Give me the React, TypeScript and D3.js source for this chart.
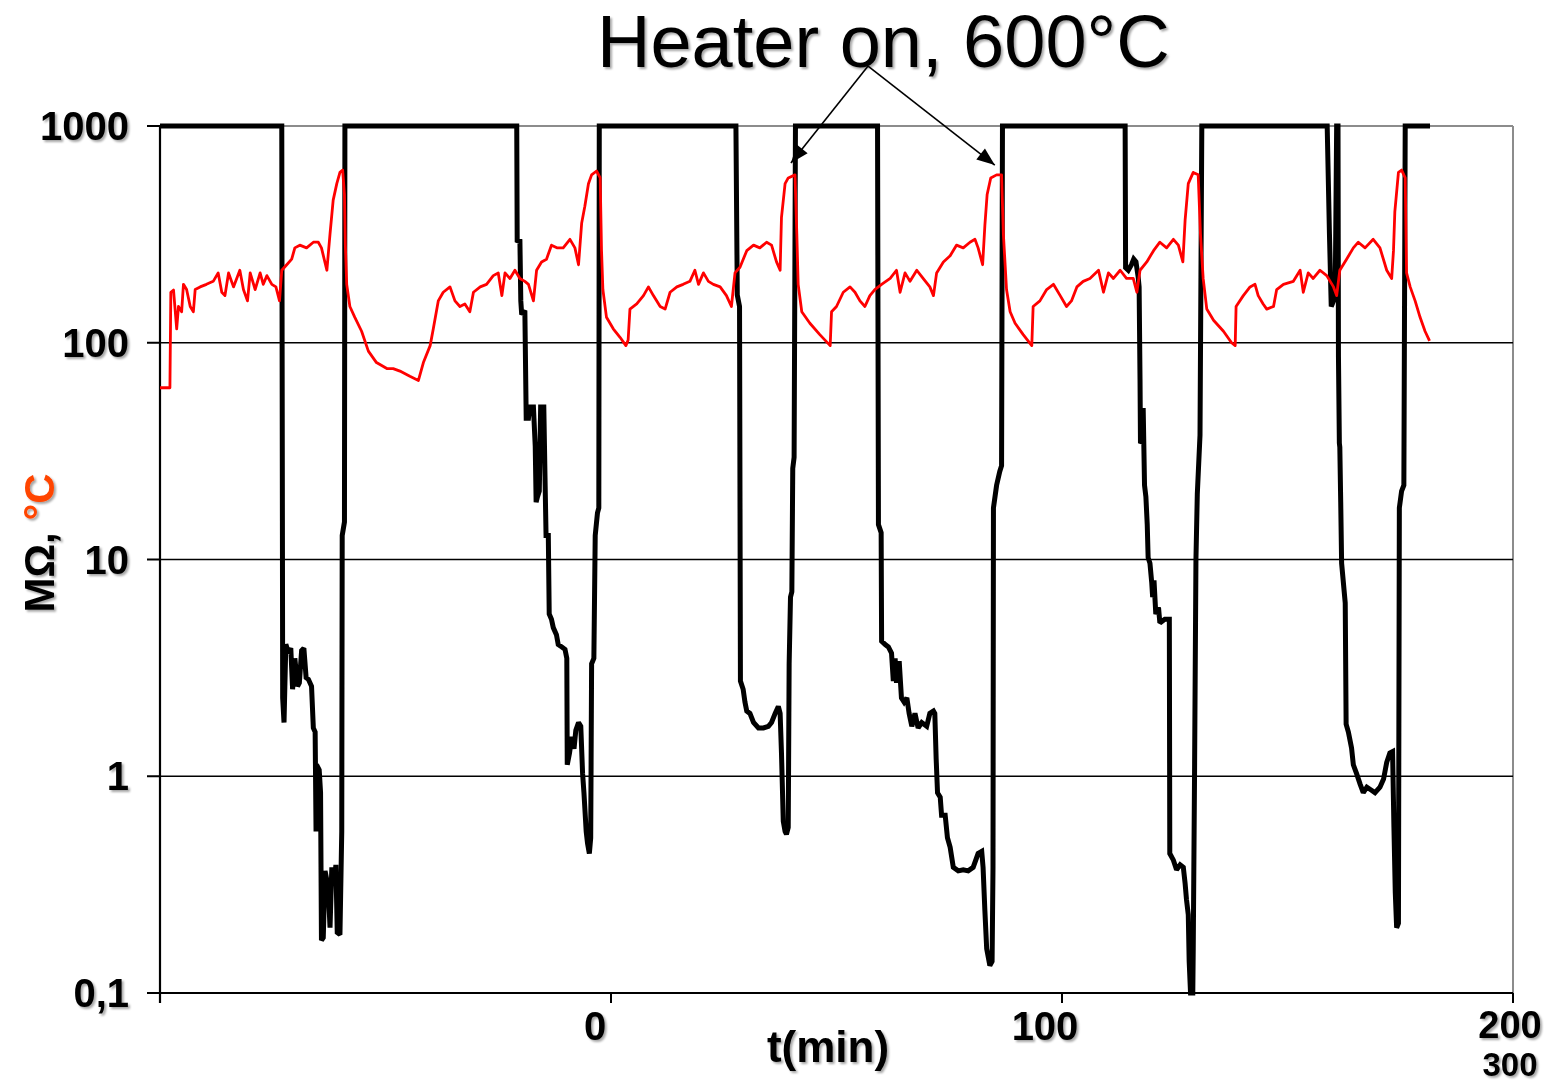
import React from "react";
import * as d3 from "d3";

// Resistance (MΩ) vs time (min)
const resistance: [number, number][] = [
  [0, 1000], [27.0, 1000], [27.2, 2.3], [27.5, 1.77], [27.9, 4.06], [28.5, 3.7], [29.0, 3.9], [29.4, 2.52],
  [29.9, 3.5], [30.5, 2.6], [30.9, 2.7], [31.4, 3.8], [31.9, 3.9], [32.4, 2.85], [32.9, 2.8], [33.6, 2.6],
  [34.0, 1.67], [34.4, 1.6], [34.6, 0.556], [34.7, 1.13], [35.3, 1.07], [35.6, 0.84], [35.8, 0.175],
  [36.2, 0.18], [36.6, 0.366], [37.3, 0.307], [37.7, 0.2], [38.1, 0.38], [38.6, 0.32], [39.0, 0.39],
  [39.3, 0.19], [39.9, 0.186], [40.3, 0.556], [40.4, 12.9], [40.9, 14.9], [41.0, 1000],
  [79.1, 1000], [79.2, 291], [79.8, 300], [80.0, 156], [80.2, 135], [80.9, 141], [81.2, 44.9], [81.7, 44.9],
  [82.0, 50.6], [82.8, 50.6], [83.2, 33.3], [83.4, 18.4], [83.7, 19.5], [84.1, 20.7], [84.4, 50.6],
  [85.1, 50.6], [85.4, 22], [85.6, 12.9], [86.1, 12.9], [86.3, 5.6], [86.8, 5.3], [87.2, 4.85], [87.9, 4.5],
  [88.3, 4.05], [89.1, 3.95], [89.8, 3.85], [90.2, 3.5], [90.3, 1.13], [90.8, 1.28], [91.3, 1.52],
  [91.8, 1.34], [92.2, 1.63], [92.8, 1.77], [93.3, 1.7], [93.7, 1.03], [94.0, 0.84], [94.5, 0.556],
  [94.8, 0.49], [95.2, 0.44], [95.5, 0.52], [95.7, 3.3], [96.2, 3.5], [96.5, 12.9], [97.0, 16.4],
  [97.3, 17.3], [97.4, 1000],
  [127.7, 1000], [128.0, 166], [128.5, 147], [128.7, 2.75], [129.3, 2.52], [129.7, 2.2], [130.1, 2.0],
  [130.8, 1.95], [131.6, 1.77], [132.7, 1.67], [133.8, 1.67], [134.9, 1.7], [135.6, 1.77], [136.4, 1.95],
  [137.1, 2.1], [137.5, 1.95], [137.8, 1.28], [138.2, 0.62], [138.6, 0.556], [138.9, 0.54], [139.3, 0.58],
  [139.5, 3.3], [139.8, 6.7], [140.1, 7.1], [140.3, 26.3], [140.6, 29.6], [140.9, 1000],
  [159.1, 1000], [159.3, 14.5], [159.9, 13.3], [160.0, 4.2], [160.8, 4.05], [161.5, 3.95], [162.2, 3.7],
  [162.6, 2.75], [163.0, 3.5], [163.3, 2.7], [163.9, 3.4], [164.4, 2.3], [165.0, 2.2], [165.6, 2.3],
  [166.1, 1.95], [166.7, 1.7], [167.4, 1.95], [168.1, 1.67], [168.9, 1.77], [170.0, 1.7], [170.7, 1.95],
  [171.5, 2.0], [171.8, 1.95], [172.1, 1.2], [172.4, 0.84], [173.0, 0.8], [173.3, 0.66], [174.1, 0.66],
  [174.6, 0.52], [175.2, 0.47], [175.9, 0.38], [177.0, 0.366], [178.1, 0.37], [179.2, 0.366], [180.3, 0.38],
  [181.4, 0.44], [182.2, 0.45], [182.5, 0.38], [182.9, 0.24], [183.3, 0.16], [184.0, 0.134], [184.5, 0.14],
  [184.7, 0.38], [184.8, 17.3], [185.5, 22], [186.2, 25.5], [186.6, 27.1], [186.8, 1000],
  [214.0, 1000], [214.1, 222], [214.7, 216], [215.4, 229], [215.9, 243], [216.4, 236], [216.9, 200],
  [217.1, 181], [217.3, 68], [217.4, 34.4], [217.9, 35.5], [218.0, 50], [218.3, 22], [218.6, 19.5],
  [218.9, 14.5], [219.1, 10.2], [219.5, 9.6], [219.9, 7.8], [220.1, 6.7], [220.4, 8.0], [220.8, 5.6],
  [221.4, 6.0], [221.7, 5.1], [222.8, 5.3], [223.8, 5.3], [223.9, 0.44], [224.7, 0.41], [225.4, 0.37],
  [226.2, 0.39], [226.9, 0.38], [227.3, 0.32], [227.6, 0.27], [228.0, 0.23], [228.2, 0.14], [228.5, 0.1],
  [229.0, 0.1], [229.1, 0.16], [229.4, 1.1], [229.7, 10], [230.0, 20], [230.6, 37.5], [231.0, 1000],
  [258.8, 1000], [259.3, 318], [259.7, 147], [260.2, 156], [260.6, 186], [260.9, 1000], [261.2, 1000],
  [261.3, 86], [261.5, 34.4], [261.6, 33], [261.8, 18.4], [262.0, 9.6], [262.8, 6.3], [263.0, 1.74],
  [263.5, 1.6], [264.2, 1.35], [264.6, 1.13], [265.3, 1.03], [266.1, 0.92], [266.8, 0.84], [267.6, 0.89],
  [268.7, 0.86], [269.4, 0.84], [270.5, 0.89], [271.3, 0.97], [272.0, 1.16], [272.7, 1.28], [273.3, 1.3],
  [273.6, 0.58], [273.9, 0.29], [274.2, 0.2], [274.6, 0.21], [274.8, 17.3], [275.3, 20.7], [275.8, 22],
  [276.1, 1000], [281.6, 1000],
];

// Temperature (°C) vs time (min)
const temperature: [number, number][] = [
  [0, 62], [2.2, 62], [2.4, 171], [3.0, 175], [3.7, 116], [4.1, 147], [4.8, 139], [5.2, 186], [5.9, 176],
  [6.7, 147], [7.4, 139], [7.8, 176], [8.9, 181], [10.3, 186], [11.8, 192], [12.9, 210], [13.7, 171],
  [14.4, 165], [15.2, 210], [16.3, 181], [17.7, 216], [18.5, 176], [19.4, 156], [20.0, 210], [21.1, 176],
  [22.2, 210], [22.9, 186], [23.7, 204], [24.8, 186], [25.7, 181], [26.5, 156], [27.0, 216], [28.1, 229],
  [29.2, 243], [29.9, 274], [31.0, 282], [32.5, 274], [34.0, 291], [35.1, 291], [35.8, 274], [37.0, 216],
  [37.7, 318], [38.4, 455], [39.2, 542], [39.9, 611], [40.5, 626], [40.9, 483], [41.1, 282], [41.4, 186],
  [42.1, 147], [43.2, 131], [44.7, 113], [46.2, 91.5], [48.0, 81], [50.3, 76], [51.7, 76], [53.2, 74],
  [55.4, 70], [57.3, 67], [58.4, 81], [59.9, 97], [60.6, 116], [61.7, 156], [62.8, 171], [64.3, 181],
  [65.4, 156], [66.5, 147], [67.6, 151], [68.7, 139], [69.5, 171], [71.0, 181], [72.4, 186], [73.9, 204],
  [75.0, 210], [75.8, 165], [76.5, 210], [77.6, 198], [78.7, 216], [79.8, 198], [80.9, 192], [81.7, 186],
  [82.8, 156], [83.5, 216], [84.6, 236], [85.7, 243], [86.8, 282], [88.0, 274], [89.4, 274], [90.9, 300],
  [92.0, 274], [92.8, 229], [93.5, 357], [94.2, 426], [95.0, 542], [95.7, 595], [96.8, 620], [97.6, 576],
  [97.9, 266], [98.2, 176], [99.0, 131], [100.5, 116], [102.0, 106], [103.3, 97], [103.8, 103], [104.2, 143],
  [105.7, 151], [107.2, 165], [108.3, 181], [109.4, 165], [110.9, 147], [112.0, 143], [113.1, 171],
  [114.6, 181], [116.0, 186], [117.5, 192], [118.6, 216], [119.4, 186], [120.5, 210], [121.6, 192],
  [122.7, 186], [124.2, 181], [125.6, 165], [126.7, 147], [127.1, 176], [127.5, 210], [128.6, 223],
  [130.1, 266], [131.6, 282], [133.0, 274], [134.5, 291], [135.6, 282], [136.7, 236], [137.5, 216],
  [137.8, 379], [138.6, 542], [139.3, 576], [140.8, 595], [141.2, 318], [141.5, 186], [142.3, 139],
  [144.1, 123], [146.3, 109], [148.6, 97], [148.9, 139], [150.0, 147], [151.5, 171], [153.0, 181],
  [154.1, 171], [155.2, 156], [156.3, 147], [157.4, 165], [158.5, 176], [160.0, 186], [161.9, 198],
  [163.3, 216], [164.1, 171], [165.2, 210], [166.3, 192], [167.8, 216], [169.2, 198], [170.7, 181],
  [171.5, 165], [172.2, 210], [173.7, 236], [175.2, 252], [176.6, 282], [178.1, 274], [179.6, 291],
  [180.7, 300], [181.4, 274], [182.4, 229], [182.9, 348], [183.4, 483], [184.2, 576], [185.5, 595],
  [186.6, 595], [187.0, 318], [187.7, 176], [188.5, 139], [189.6, 123], [191.4, 109], [193.3, 97],
  [193.6, 147], [195.1, 156], [196.6, 176], [198.1, 186], [199.6, 165], [201.0, 147], [202.1, 156],
  [203.3, 181], [204.7, 192], [206.2, 198], [208.1, 216], [209.2, 171], [210.3, 210], [211.4, 198],
  [212.9, 216], [214.3, 198], [215.8, 198], [216.6, 171], [217.3, 216], [218.8, 236], [220.3, 266],
  [221.7, 291], [223.2, 274], [224.7, 300], [225.8, 282], [226.8, 236], [227.3, 369], [228.0, 542],
  [229.1, 611], [230.2, 595], [230.7, 318], [231.3, 198], [232.1, 143], [233.6, 127], [235.8, 113],
  [237.6, 100], [238.4, 97], [238.6, 147], [240.2, 165], [241.7, 181], [242.8, 186], [243.5, 165],
  [244.6, 151], [245.4, 143], [246.9, 147], [247.6, 176], [249.1, 186], [251.3, 192], [252.8, 216],
  [253.5, 171], [254.6, 210], [255.7, 198], [257.2, 216], [258.7, 204], [260.2, 181], [260.9, 165],
  [261.6, 216], [263.1, 243], [264.6, 274], [265.7, 291], [267.2, 274], [269.0, 300], [270.5, 274],
  [272.0, 216], [273.1, 198], [273.5, 266], [273.8, 403], [274.6, 611], [275.3, 626], [276.1, 576],
  [276.4, 210], [277.2, 181], [278.3, 156], [279.4, 131], [280.5, 113], [281.5, 102],
];

const yTicks = [0.1, 1, 10, 100, 1000];
const yTickLabels = ["0,1", "1", "10", "100", "1000"];
const gridValues = [1, 10, 100];
const xTicks = [0, 100, 200, 300];
const xTickLabels: string[][] = [[], ["0"], ["100"], ["200", "300"]];
const xLabelShift = [0, -16, -17, -3];
const titleText = "Heater on, 600°C";
const xAxisTitle = "t(min)";
const arrowFrom: [number, number] = [157, 1890];
const arrowTips: [number, number][] = [[139.9, 675], [185.1, 660]];

const FONT = "'Liberation Sans', Arial, Helvetica, sans-serif";

export default function App() {
  const W = 1549;
  const H = 1084;
  const x = d3.scaleLinear().domain([0, 300]).range([160, 1513]);
  const y = d3.scaleLog().domain([0.1, 1000]).range([993, 126]);
  const line = d3
    .line<[number, number]>()
    .x((d) => x(d[0]))
    .y((d) => y(d[1]))
    .curve(d3.curveLinear);

  const left = x(0);
  const right = x(300);
  const top = y(1000);
  const bottom = y(0.1);

  const arrowHead = (fx: number, fy: number, tx: number, ty: number) => {
    const ang = Math.atan2(ty - fy, tx - fx);
    const L = 18;
    const Wd = 7;
    const bx = tx - L * Math.cos(ang);
    const by = ty - L * Math.sin(ang);
    const p1 = [bx + Wd * Math.sin(ang), by - Wd * Math.cos(ang)];
    const p2 = [bx - Wd * Math.sin(ang), by + Wd * Math.cos(ang)];
    return `M${tx},${ty}L${p1[0]},${p1[1]}L${p2[0]},${p2[1]}Z`;
  };

  const ax = x(arrowFrom[0]);
  const ay = y(arrowFrom[1]);

  // stacked labels under the last tick: first line, second line
  const stackY = [1038, 1076];
  const stackSize = [38, 33];

  return (
    <svg
      width={W}
      height={H}
      style={{ position: "absolute", left: 0, top: 0, background: "#fff" }}
    >
      <defs>
        <filter id="sh" x="-20%" y="-20%" width="140%" height="140%">
          <feDropShadow dx="2" dy="2" stdDeviation="1.2" floodColor="#000" floodOpacity="0.35" />
        </filter>
      </defs>
      <rect x={0} y={0} width={W} height={H} fill="#fff" />

      {/* plot frame (top/right) */}
      <line x1={left} x2={right} y1={top} y2={top} stroke="#8c8c8c" strokeWidth={2} />
      <line x1={right} x2={right} y1={top} y2={bottom} stroke="#8c8c8c" strokeWidth={2} />

      {/* gridlines */}
      {gridValues.map((v) => (
        <line key={v} x1={left} x2={right} y1={y(v)} y2={y(v)} stroke="#000" strokeWidth={1.6} />
      ))}

      {/* axes */}
      <line x1={left} x2={left} y1={top} y2={bottom + 10} stroke="#000" strokeWidth={2.2} />
      <line x1={left - 13} x2={right} y1={bottom} y2={bottom} stroke="#000" strokeWidth={2.2} />
      {yTicks.map((v) => (
        <line key={v} x1={left - 13} x2={left} y1={y(v)} y2={y(v)} stroke="#000" strokeWidth={2} />
      ))}
      {xTicks.map((t) => (
        <line key={t} x1={x(t)} x2={x(t)} y1={bottom} y2={bottom + 10} stroke="#000" strokeWidth={2} />
      ))}

      {/* data */}
      <path d={line(resistance) || ""} fill="none" stroke="#000" strokeWidth={5} strokeLinejoin="miter" strokeMiterlimit={2} />
      <path d={line(temperature) || ""} fill="none" stroke="#ff0000" strokeWidth={2.8} strokeLinejoin="round" />

      {/* labels */}
      <g filter="url(#sh)" fontFamily={FONT} fontWeight="bold" fontSize={40} fill="#000">
        {yTicks.map((v, i) => (
          <text key={v} x={129} y={y(v) + 14} textAnchor="end">
            {yTickLabels[i]}
          </text>
        ))}
        {xTicks.map((t, i) =>
          xTickLabels[i].map((lab, j) => {
            const stacked = xTickLabels[i].length > 1;
            return (
              <text
                key={t + "-" + j}
                x={x(t) + xLabelShift[i]}
                y={stacked ? stackY[j] : 1040}
                fontSize={stacked ? stackSize[j] : 40}
                textAnchor="middle"
              >
                {lab}
              </text>
            );
          })
        )}
        <text x={828} y={1062} textAnchor="middle" fontSize={44}>
          {xAxisTitle}
        </text>
        <text transform="translate(54,543) rotate(-90)" textAnchor="middle" fontSize={42}>
          <tspan fill="#000">MΩ, </tspan>
          <tspan fill="#ff4500">°C</tspan>
        </text>
      </g>

      {/* title */}
      <text x={597} y={67} fontFamily={FONT} fontSize={74} fill="#000" filter="url(#sh)">
        {titleText}
      </text>

      {/* arrows */}
      {arrowTips.map(([t, v], i) => {
        const tx = x(t);
        const ty = y(v);
        return (
          <g key={i}>
            <line x1={ax} y1={ay} x2={tx} y2={ty} stroke="#000" strokeWidth={1.6} />
            <path d={arrowHead(ax, ay, tx, ty)} fill="#000" />
          </g>
        );
      })}
    </svg>
  );
}
